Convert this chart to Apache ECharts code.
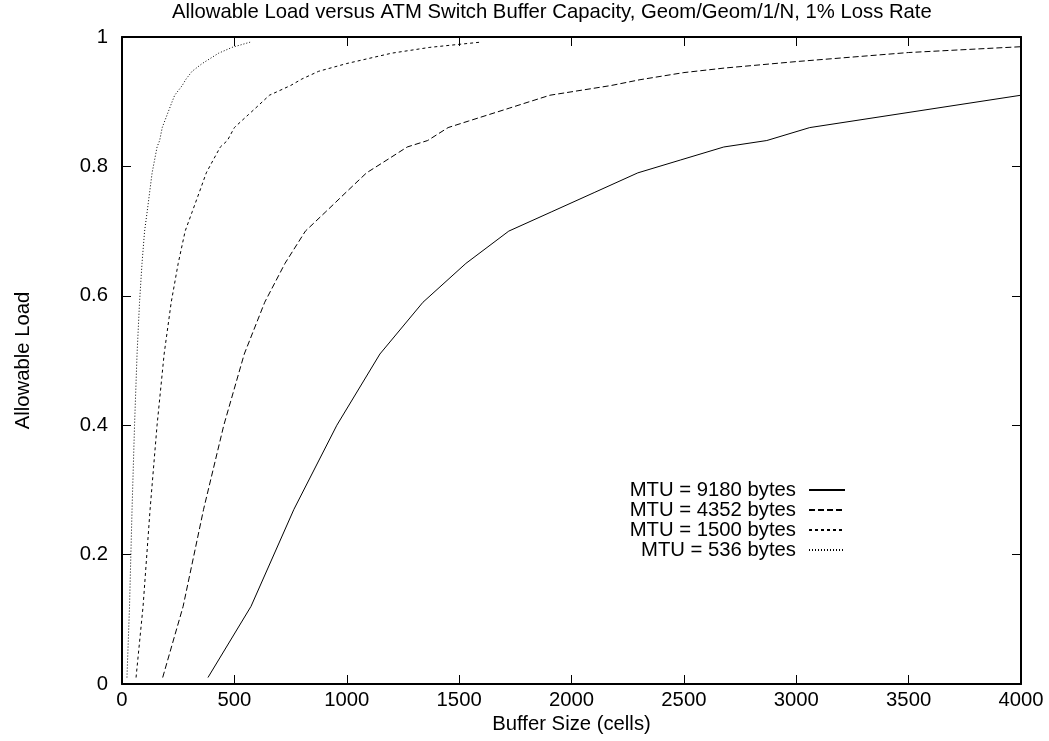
<!DOCTYPE html>
<html>
<head>
<meta charset="utf-8">
<title>Allowable Load versus ATM Switch Buffer Capacity</title>
<script src="https://cdn.jsdelivr.net/npm/echarts@6/dist/echarts.min.js"></script>
<style>
  html, body { margin: 0; padding: 0; background: #fff; }
  #chart { width: 1049px; height: 741px; }
</style>
</head>
<body>
<div id="chart"></div>
<script>
// values
const names = ['MTU = 9180 bytes', 'MTU = 4352 bytes', 'MTU = 1500 bytes', 'MTU = 536 bytes'];

const mtu9180X = [382.5, 574, 765, 956, 1147.5, 1339, 1530, 1721, 1912.5, 2104, 2295, 2486, 2677.5, 2869, 3060, 4000];
const mtu9180Y = [0.01, 0.12, 0.27, 0.40, 0.51, 0.59, 0.65, 0.70, 0.73, 0.76, 0.79, 0.81, 0.83, 0.84, 0.86, 0.91];

const mtu4352X = [181, 272, 363, 453, 544, 635, 725, 816, 907, 997, 1088, 1179, 1269, 1360, 1451, 1541, 1632, 1723, 1813, 1904, 2176, 2305, 2500, 2680, 3000, 3500, 4000];
const mtu4352Y = [0.01, 0.12, 0.27, 0.40, 0.51, 0.59, 0.65, 0.70, 0.73, 0.76, 0.79, 0.81, 0.83, 0.84, 0.86, 0.87, 0.88, 0.89, 0.90, 0.91, 0.925, 0.934, 0.945, 0.952, 0.962, 0.976, 0.985];

const mtu1500X = [62.5, 93.75, 125, 156, 187.5, 219, 250, 281, 312.5, 344, 375, 406, 437.5, 469, 500, 531, 562.5, 594, 625, 656, 750, 800, 875, 1000, 1200, 1370, 1594];
const mtu1500Y = [0.01, 0.12, 0.27, 0.40, 0.51, 0.59, 0.65, 0.70, 0.73, 0.76, 0.79, 0.81, 0.83, 0.84, 0.86, 0.87, 0.88, 0.89, 0.90, 0.91, 0.925, 0.935, 0.947, 0.959, 0.975, 0.984, 0.992];

const mtu536X = [22, 33.5, 44.7, 55.8, 67, 78, 89, 100.5, 112, 123, 134, 145, 156, 167.5, 179, 190, 201, 212, 223, 234.5, 268, 285, 312, 357, 430, 490, 570];
const mtu536Y = [0.01, 0.12, 0.27, 0.40, 0.51, 0.59, 0.65, 0.70, 0.73, 0.76, 0.79, 0.81, 0.83, 0.84, 0.86, 0.87, 0.88, 0.89, 0.90, 0.91, 0.925, 0.935, 0.947, 0.959, 0.975, 0.984, 0.992];

const seriesX = [mtu9180X, mtu4352X, mtu1500X, mtu536X];
const seriesY = [mtu9180Y, mtu4352Y, mtu1500Y, mtu536Y];
const dashes = ['solid', [6, 3], [3, 3], [1, 2]];

const font = 'Liberation Sans, Arial, Helvetica, sans-serif';
const black = '#000';
const fs = 20.3;

function pairs(xs, ys) {
    return xs.map((x, i) => [x, ys[i]]);
}

const chart = echarts.init(document.getElementById('chart'), null, {renderer: 'canvas'});

const baseAxis = {
    axisLine: {show: true, onZero: false, lineStyle: {color: black, width: 2}},
    axisTick: {show: true, inside: true, length: 9, lineStyle: {color: black, width: 1}},
    splitLine: {show: false}
};

const option = {
    animation: false,
    backgroundColor: '#fff',
    title: {
        text: 'Allowable Load versus ATM Switch Buffer Capacity, Geom/Geom/1/N, 1% Loss Rate',
        left: 172,
        top: 2,
        padding: 0,
        textStyle: {fontFamily: font, fontSize: fs, fontWeight: 'normal', color: black}
    },
    grid: {left: 122, right: 28, top: 37, bottom: 57, containLabel: false},
    legend: names.map((n, i) => ({
        data: [n],
        right: 203,
        top: 480 + i * 20,
        padding: 0,
        itemWidth: 36,
        itemHeight: 14,
        align: 'right',
        selectedMode: false,
        itemStyle: {opacity: 0},
        textStyle: {fontFamily: font, fontSize: fs, color: black, padding: [0, 8, 0, 0]}
    })),
    xAxis: [
        Object.assign({}, baseAxis, {
            type: 'value', min: 0, max: 4000, interval: 500, position: 'bottom',
            name: 'Buffer Size (cells)', nameLocation: 'middle', nameGap: 23,
            nameTextStyle: {fontFamily: font, fontSize: fs, color: black},
            axisLabel: {fontFamily: font, fontSize: fs, color: black, margin: 6,
                formatter: v => String(v)}
        }),
        Object.assign({}, baseAxis, {
            type: 'value', min: 0, max: 4000, interval: 500, position: 'top',
            axisLabel: {show: false}
        })
    ],
    yAxis: [
        Object.assign({}, baseAxis, {
            type: 'value', min: 0, max: 1, interval: 0.2, position: 'left',
            name: 'Allowable Load', nameLocation: 'middle', nameGap: 89,
            nameTextStyle: {fontFamily: font, fontSize: fs, color: black},
            axisLabel: {fontFamily: font, fontSize: fs, color: black, margin: 14,
                formatter: v => String(Math.round(v * 10) / 10)}
        }),
        Object.assign({}, baseAxis, {
            type: 'value', min: 0, max: 1, interval: 0.2, position: 'right',
            axisLabel: {show: false}
        })
    ],
    series: names.map((n, i) => ({
        name: n,
        type: 'line',
        xAxisIndex: 0,
        yAxisIndex: 0,
        data: pairs(seriesX[i], seriesY[i]),
        showSymbol: false,
        symbol: 'none',
        clip: true,
        color: black,
        lineStyle: {color: black, width: 1, type: dashes[i]}
    }))
};

chart.setOption(option);
</script>
</body>
</html>
